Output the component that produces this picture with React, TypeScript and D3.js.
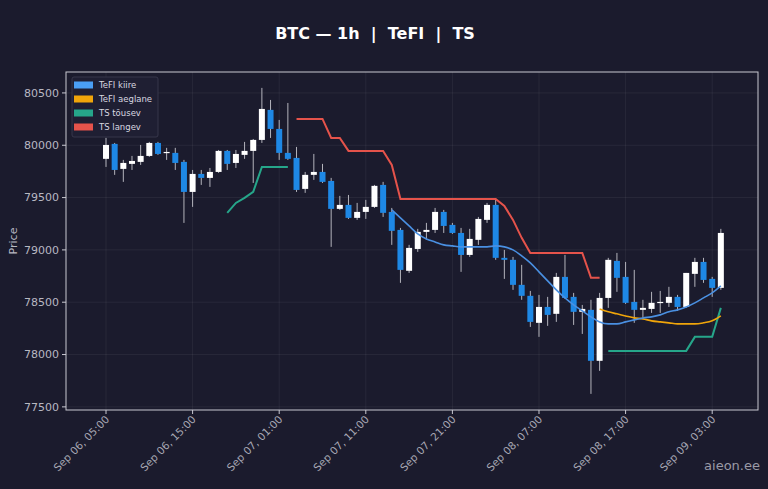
import * as d3 from 'd3'

// hourly candles from Sep 06 05:00 to Sep 09 04:00
const opens = [
  79870, 80013, 79774, 79822, 79841, 79898, 80022, 79927, 79927, 79841,
  79554, 79726, 79688, 79745, 79946, 79831, 79908, 79946, 80051, 80338,
  80156, 79927, 79879, 79583, 79717, 79745, 79659, 79392, 79430, 79306,
  79363, 79411, 79621, 79363, 79191, 78800, 79009, 79172, 79191, 79363,
  79239, 79162, 78952, 79096, 79287, 79430, 78924, 78905, 78666, 78561,
  78303, 78455, 78389, 78742, 78551, 78408, 78427, 77940, 78541, 78895,
  78742, 78503, 78427, 78436, 78494, 78494, 78551, 78455, 78771, 78885,
  78723, 78637,
]
const highs = [
  80070, 80022, 79860, 79898, 80003, 80032, 80032, 79975, 79975, 79860,
  79764, 79764, 79783, 79955, 79955, 79955, 80032, 80060, 80548, 80433,
  80242, 80404, 79984, 79745, 79917, 79822, 79688, 79516, 79525, 79449,
  79478, 79621, 79650, 79401, 79210, 79048, 79201, 79258, 79401, 79382,
  79258, 79210, 79201, 79315, 79449, 79487, 79000, 78933, 78857, 78608,
  78570, 78551, 78780, 78952, 78589, 78474, 78523, 78589, 78924, 78971,
  78885, 78809, 78523, 78599, 78608, 78647, 78570, 78780, 78924, 78924,
  78742, 79201,
]
const lows = [
  79793, 79717, 79650, 79764, 79812, 79889, 79908, 79860, 79764, 79258,
  79411, 79621, 79602, 79736, 79764, 79783, 79870, 79640, 80022, 80070,
  79860, 79860, 79554, 79545, 79669, 79640, 79029, 79382, 79296, 79287,
  79296, 79401, 79315, 79048, 78685, 78780, 78981, 79096, 79162, 79162,
  79153, 78790, 78933, 79048, 79258, 78905, 78723, 78618, 78523, 78264,
  78169, 78274, 78312, 78532, 78283, 78197, 77624, 77844, 78446, 78599,
  78484, 78303, 78350, 78398, 78398, 78455, 78417, 78446, 78647, 78685,
  78551, 78618,
]
const closes = [
  80003, 79764, 79831, 79850, 79898, 80022, 79917, 79936, 79831, 79554,
  79726, 79688, 79745, 79946, 79822, 79917, 79946, 80051, 80347, 80156,
  79927, 79870, 79573, 79717, 79745, 79650, 79392, 79430, 79306, 79363,
  79411, 79612, 79354, 79182, 78809, 79019, 79172, 79191, 79363, 79229,
  79162, 78952, 79105, 79296, 79430, 78924, 78905, 78666, 78561, 78312,
  78455, 78379, 78742, 78541, 78408, 78436, 77940, 78541, 78905, 78733,
  78494, 78427, 78446, 78494, 78503, 78551, 78455, 78780, 78885, 78713,
  78637, 79162,
]

const N = null
const tefiFast: (number | null)[] = [
  N, N, N, N, N, N, N, N, N, N, N, N, N, N, N, N, N, N, N, N,
  N, N, N, N, N, N, N, N, N, N, N, N, N, 79382, 79306, 79229, 79153, 79105, 79076, 79048,
  79038, 79029, 79029, 79029, 79029, 79038, 79029, 79000, 78943, 78876,
  78790, 78704, 78618, 78541, 78474, 78417, 78360, 78312, 78293, 78293,
  78312, 78331, 78350, 78360, 78379, 78408, 78427, 78455, 78494, 78541,
  78589, 78656,
]
const tefiSlow: (number | null)[] = [
  N, N, N, N, N, N, N, N, N, N, N, N, N, N, N, N, N, N, N, N,
  N, N, N, N, N, N, N, N, N, N, N, N, N, N, N, N, N, N, N, N,
  N, N, N, N, N, N, N, N, N, N, N, N, N, N, N, N, N, 78436, 78408, 78389,
  78369, 78350, 78341, 78322, 78312, 78303, 78293, 78293, 78293, 78303,
  78322, 78369,
]
const tsUp: (number | null)[] = [
  N, N, N, N, N, N, N, N, N, N, N, N, N, N, 79354, 79449, 79497, 79554, 79793, 79793,
  79793, 79793, N, N, N, N, N, N, N, N, N, N, N, N, N, N, N, N, N, N,
  N, N, N, N, N, N, N, N, N, N, N, N, N, N, N, N, N, N, 78035, 78035,
  78035, 78035, 78035, 78035, 78035, 78035, 78035, 78035, 78169, 78169,
  78169, 78446,
]
const tsDown: (number | null)[] = [
  N, N, N, N, N, N, N, N, N, N, N, N, N, N, N, N, N, N, N, N,
  N, N, 80252, 80252, 80252, 80252, 80070, 80070, 79946, 79946,
  79946, 79946, 79946, 79812, 79487, 79487, 79487, 79487, 79487, 79487,
  79487, 79487, 79487, 79487, 79487, 79487, 79420, 79287, 79115, 78971,
  78971, 78971, 78971, 78971, 78971, 78971, 78733, 78733, N, N,
  N, N, N, N, N, N, N, N, N, N,
  N, N,
]

const xTicks = [0, 10, 20, 30, 40, 50, 60, 70]
const xTickLabels = [
  'Sep 06, 05:00', 'Sep 06, 15:00', 'Sep 07, 01:00', 'Sep 07, 11:00',
  'Sep 07, 21:00', 'Sep 08, 07:00', 'Sep 08, 17:00', 'Sep 09, 03:00',
]
const yTicks = [77500, 78000, 78500, 79000, 79500, 80000, 80500]

const legendItems = [
  { label: 'TeFI kiire', color: '#4a9ff5' },
  { label: 'TeFI aeglane', color: '#f0a50a' },
  { label: 'TS tõusev', color: '#26a68a' },
  { label: 'TS langev', color: '#e5534b' },
]

const W = 768
const H = 489
const left = 66
const right = 758
const top = 72
const bottom = 410
const font = 'DejaVu Sans, sans-serif'

export default function App() {
  const x = d3.scaleLinear().domain([-4.62, 75.29]).range([left, right])
  const y = d3.scaleLinear().domain([77470, 80700]).range([bottom, top])
  const bw = 6

  const line = d3
    .line<number | null>()
    .defined(d => d != null)
    .x((_, i) => x(i))
    .y(d => y(d as number))
  const smooth = d3
    .line<number | null>()
    .defined(d => d != null)
    .x((_, i) => x(i))
    .y(d => y(d as number))
    .curve(d3.curveMonotoneX)

  return (
    <svg
      width={W}
      height={H}
      style={{ position: 'absolute', left: 0, top: 0, background: '#1b1b2d' }}
      fontFamily={font}
    >
      <rect width={W} height={H} fill="#1b1b2d" />
      <text x={375} y={39} textAnchor="middle" fill="#ffffff" fontSize={16} fontWeight="bold" style={{ whiteSpace: 'pre' }}>
        {'BTC — 1h  |  TeFI  |  TS'}
      </text>

      {/* grid */}
      {xTicks.map(t => (
        <line key={'gx' + t} x1={x(t)} x2={x(t)} y1={top} y2={bottom} stroke="#ffffff" strokeOpacity={0.06} />
      ))}
      {yTicks.map(t => (
        <line key={'gy' + t} x1={left} x2={right} y1={y(t)} y2={y(t)} stroke="#ffffff" strokeOpacity={0.06} />
      ))}

      {/* candles */}
      {opens.map((o, i) => {
        const c = closes[i]
        const up = c >= o
        const y0 = y(Math.max(o, c))
        const y1 = y(Math.min(o, c))
        return (
          <g key={'c' + i}>
            <line x1={x(i)} x2={x(i)} y1={y(highs[i])} y2={y(lows[i])} stroke="#b4b4bc" strokeWidth={1} />
            <rect
              x={x(i) - bw / 2}
              y={y0}
              width={bw}
              height={Math.max(1.2, y1 - y0)}
              fill={up ? '#ffffff' : '#1e88e5'}
            />
          </g>
        )
      })}

      {/* indicator lines */}
      <path d={line(tsUp) || ''} fill="none" stroke="#26a68a" strokeWidth={2} />
      <path d={line(tsDown) || ''} fill="none" stroke="#e5534b" strokeWidth={2} />
      <path d={smooth(tefiSlow) || ''} fill="none" stroke="#f0a50a" strokeWidth={1.6} />
      <path d={smooth(tefiFast) || ''} fill="none" stroke="#4a90e2" strokeWidth={1.6} />

      {/* frame */}
      <rect x={left} y={top} width={right - left} height={bottom - top} fill="none" stroke="#c9c9d2" strokeWidth={1} />

      {/* y axis */}
      {yTicks.map(t => (
        <g key={'yt' + t}>
          <line x1={left - 4} x2={left} y1={y(t)} y2={y(t)} stroke="#c9c9d2" />
          <text x={left - 7} y={y(t)} dy="0.35em" textAnchor="end" fill="#b8b8c2" fontSize={11}>
            {t}
          </text>
        </g>
      ))}
      <text transform={`translate(17,${(top + bottom) / 2}) rotate(-90)`} textAnchor="middle" fill="#b8b8c2" fontSize={11}>
        Price
      </text>

      {/* x axis */}
      {xTicks.map((t, k) => (
        <g key={'xt' + t}>
          <line x1={x(t)} x2={x(t)} y1={bottom} y2={bottom + 4} stroke="#c9c9d2" />
          <text
            transform={`translate(${x(t) + 4},${bottom + 10}) rotate(-45)`}
            textAnchor="end"
            fill="#a8a8b4"
            fontSize={10.5}
          >
            {xTickLabels[k]}
          </text>
        </g>
      ))}

      {/* legend */}
      <rect x={72} y={77} width={86} height={60} fill="#1f1f33" stroke="#3c3c50" strokeWidth={0.8} rx={2} />
      {legendItems.map((d, k) => (
        <g key={d.label} transform={`translate(0,${85 + k * 14})`}>
          <rect x={74} y={-3.5} width={19} height={7} fill={d.color} />
          <text x={99} y={0} dy="0.35em" fill="#d8d8e0" fontSize={8.5}>
            {d.label}
          </text>
        </g>
      ))}

      <text x={760} y={470} textAnchor="end" fill="#9a9aa6" fontSize={13}>
        aieon.ee
      </text>
    </svg>
  )
}
